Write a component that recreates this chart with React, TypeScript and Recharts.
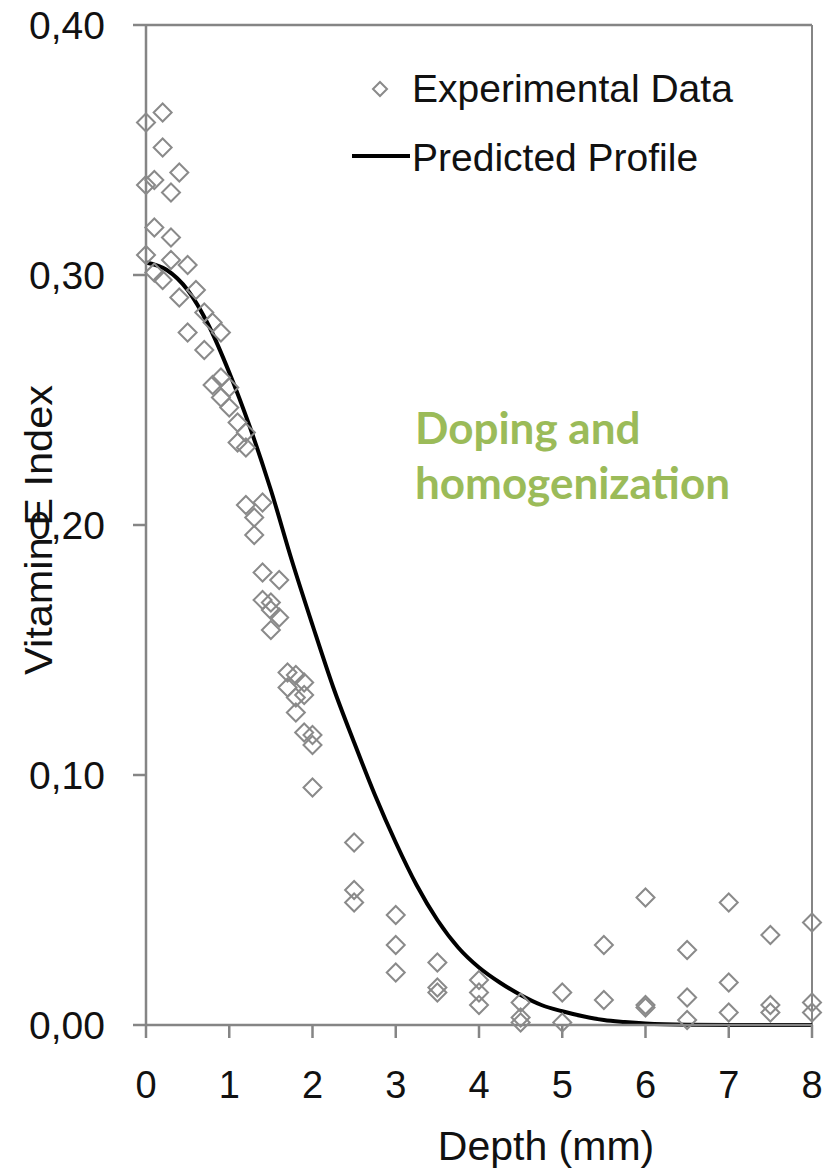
import {
  ComposedChart,
  Scatter,
  Line,
  XAxis,
  YAxis,
  ReferenceLine,
  Legend,
} from 'recharts';

const expDepth = [
  0, 0.2, 0.2, 0, 0.1, 0.4, 0.3, 0.1, 0.3, 0, 0.3, 0.5, 0.1, 0.2, 0.6, 0.4, 0.7,
  0.8, 0.9, 0.5, 0.7, 0.9, 0.8, 1.0, 0.9, 1.0, 1.1, 1.2, 1.1, 1.2, 1.2, 1.4, 1.3,
  1.3, 1.4, 1.6, 1.4, 1.5, 1.5, 1.6, 1.5, 1.7, 1.8, 1.9, 1.7, 1.8, 1.9, 1.8, 1.9,
  2.0, 2.0, 2.0, 2.5, 2.5, 2.5, 3, 3, 3, 3.5, 3.5, 3.5, 4, 4, 4, 4.5, 4.5, 4.5,
  5, 5, 5.5, 5.5, 6, 6, 6, 6.5, 6.5, 6.5, 7, 7, 7, 7.5, 7.5, 7.5, 8, 8, 8,
];
const expValue = [
  0.361, 0.365, 0.351, 0.336, 0.338, 0.341, 0.333, 0.319, 0.315, 0.308, 0.306,
  0.304, 0.301, 0.298, 0.294, 0.291, 0.285, 0.281, 0.277, 0.277, 0.27, 0.259,
  0.256, 0.255, 0.251, 0.247, 0.241, 0.237, 0.233, 0.231, 0.208, 0.209, 0.203,
  0.196, 0.181, 0.178, 0.17, 0.169, 0.166, 0.163, 0.158, 0.141, 0.14, 0.137,
  0.135, 0.131, 0.132, 0.125, 0.117, 0.116, 0.112, 0.095, 0.073, 0.054, 0.049,
  0.044, 0.032, 0.021, 0.025, 0.015, 0.013, 0.018, 0.013, 0.008, 0.009, 0.003,
  0.001, 0.013, 0.001, 0.032, 0.01, 0.051, 0.008, 0.007, 0.03, 0.011, 0.002,
  0.049, 0.017, 0.005, 0.036, 0.008, 0.005, 0.041, 0.009, 0.005,
];

const predDepth = [
  0, 0.25, 0.5, 0.75, 1.0, 1.25, 1.5, 1.75, 2.0, 2.25, 2.5, 2.75, 3.0, 3.25, 3.5,
  3.75, 4.0, 4.25, 4.5, 4.75, 5.0, 5.25, 5.5, 5.75, 6.0, 6.5, 7.0, 7.5, 8.0,
];
const predValue = [
  0.305, 0.302, 0.294, 0.28, 0.261, 0.239, 0.214, 0.186, 0.16, 0.135, 0.113,
  0.092, 0.073, 0.056, 0.042, 0.031, 0.023, 0.017, 0.012, 0.008, 0.0055, 0.0035,
  0.002, 0.0012, 0.0006, 0.0001, 0, 0, 0,
];

const xTicks = [0, 1, 2, 3, 4, 5, 6, 7, 8];
const yTicks = [0, 0.1, 0.2, 0.3, 0.4];

const expData = expDepth.map((d, i) => ({ depth: d, value: expValue[i] }));
const predData = predDepth.map((d, i) => ({ depth: d, value: predValue[i] }));

const axisColor = '#858585';
const markColor = '#8a8a8a';
const font = '"Liberation Sans", Arial, sans-serif';

function Diamond(props: any) {
  const { cx, cy } = props;
  if (cx == null || cy == null) return null;
  const r = 9;
  return (
    <path
      d={`M${cx},${cy - r}L${cx + r},${cy}L${cx},${cy + r}L${cx - r},${cy}Z`}
      fill="none"
      stroke={markColor}
      strokeWidth={2}
    />
  );
}

function LegendBox() {
  const row = { display: 'flex', alignItems: 'center', height: 69 };
  const txt = { fontFamily: font, fontSize: 39, color: '#111', whiteSpace: 'nowrap' as const };
  return (
    <div>
      <div style={row}>
        <svg width={64} height={30}>
          <path d="M32,8L39,15L32,22L25,15Z" fill="none" stroke={markColor} strokeWidth={2} />
        </svg>
        <span style={txt}>Experimental Data</span>
      </div>
      <div style={row}>
        <svg width={64} height={30}>
          <line x1={4} y1={13} x2={62} y2={13} stroke="#000" strokeWidth={4} />
        </svg>
        <span style={txt}>Predicted Profile</span>
      </div>
    </div>
  );
}

export default function App() {
  return (
    <div style={{ position: 'absolute', left: 0, top: 0, width: 838, height: 1175, background: '#fff' }}>
      <ComposedChart
        width={838}
        height={1175}
        margin={{ top: 25, right: 26, left: 0, bottom: 0 }}
      >
        <XAxis
          type="number"
          dataKey="depth"
          domain={[0, 8]}
          ticks={xTicks}
          interval={0}
          height={150}
          stroke={axisColor}
          strokeWidth={2.5}
          tickSize={13}
          tickMargin={33}
          tick={{ fill: '#111', fontSize: 38, fontFamily: font }}
          label={{
            content: () => (
              <text x={546} y={1160} textAnchor="middle" fill="#111" fontSize={41} fontFamily={font}>
                Depth (mm)
              </text>
            ),
          }}
        />
        <YAxis
          type="number"
          dataKey="value"
          domain={[0, 0.4]}
          ticks={yTicks}
          interval={0}
          width={146}
          stroke={axisColor}
          strokeWidth={2.5}
          tickSize={13}
          tickMargin={28}
          tickFormatter={(v: number) => v.toFixed(2).replace('.', ',')}
          tick={{ fill: '#111', fontSize: 39, fontFamily: font }}
          label={{
            content: () => (
              <text
                transform="translate(52,530) rotate(-90)"
                textAnchor="middle"
                fill="#111"
                fontSize={38}
                fontFamily={font}
                textLength={290}
                lengthAdjust="spacingAndGlyphs"
              >
                Vitamin E Index
              </text>
            ),
          }}
        />
        <ReferenceLine y={0.4} stroke={axisColor} strokeWidth={2.5} />
        <ReferenceLine x={8} stroke={axisColor} strokeWidth={2} />
        <Scatter
          name="Experimental Data"
          data={expData}
          dataKey="value"
          shape={Diamond}
          isAnimationActive={false}
        />
        <Line
          name="Predicted Profile"
          data={predData}
          dataKey="value"
          type="monotone"
          stroke="#000"
          strokeWidth={4}
          dot={false}
          activeDot={false}
          isAnimationActive={false}
        />
        <Legend
          layout="horizontal"
          verticalAlign="middle"
          align="center"
          wrapperStyle={{ top: 54, left: 348, width: 430, height: 140 }}
          content={() => <LegendBox />}
        />
      </ComposedChart>
      <div
        style={{
          position: 'absolute',
          left: 415,
          top: 400,
          fontFamily: 'Lato, sans-serif',
          fontWeight: 700,
          fontSize: 44,
          lineHeight: '55px',
          color: '#9bbb59',
        }}
      >
        Doping and
        <br />
        homogenization
      </div>
    </div>
  );
}
